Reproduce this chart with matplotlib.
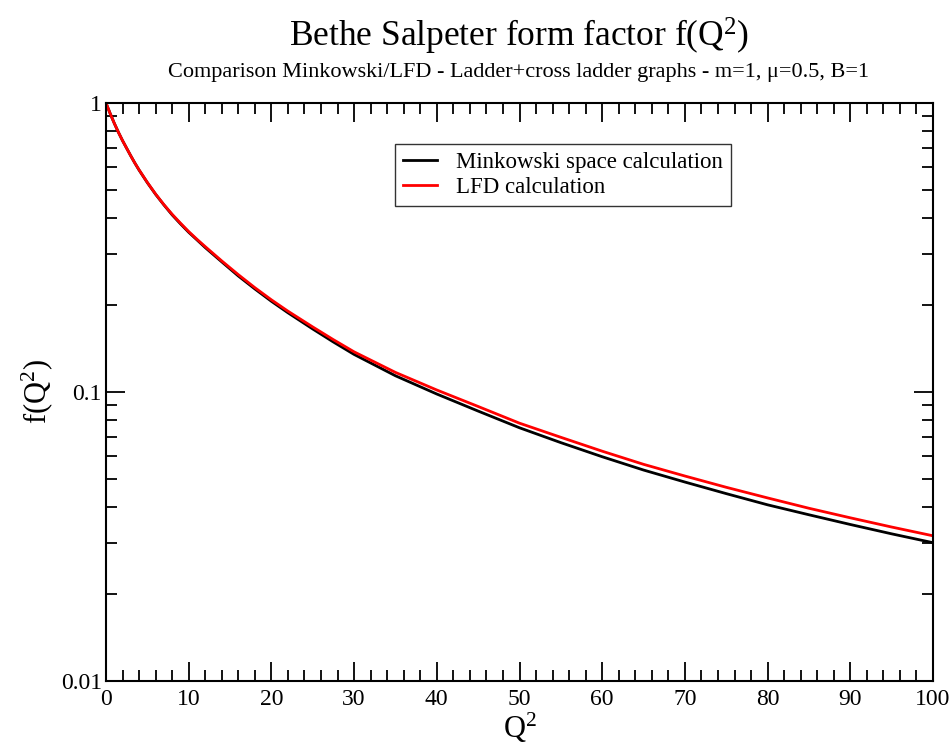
import numpy as np
import matplotlib
matplotlib.use("Agg")
import matplotlib.pyplot as plt
from matplotlib.ticker import MultipleLocator, LogLocator, FixedLocator, NullFormatter

plt.rcParams['font.family'] = ['Liberation Serif', 'DejaVu Serif']
plt.rcParams['mathtext.fontset'] = 'custom'
plt.rcParams['mathtext.rm'] = 'Liberation Serif'
plt.rcParams['mathtext.it'] = 'Liberation Serif:italic'

q2 = [0, 0.5, 1, 1.5, 2, 2.5, 3, 3.5, 4, 5, 6, 7, 8, 9, 10, 11, 12, 14, 16,
      18, 20, 22, 25, 27.5, 30, 35, 40, 45, 50, 55, 60, 65, 70, 75, 80, 85,
      90, 95, 100]
f_mink = [1.000, 0.920, 0.851, 0.792, 0.741, 0.697, 0.656, 0.619, 0.586,
          0.530, 0.483, 0.444, 0.410, 0.382, 0.357, 0.336, 0.316, 0.282,
          0.252, 0.2273, 0.206, 0.188, 0.1652, 0.1489, 0.1349, 0.1138,
          0.0984, 0.0859, 0.0752, 0.0668, 0.0597, 0.0537, 0.0488, 0.0445,
          0.0407, 0.0376, 0.0348, 0.0323, 0.0301]
f_lfd = [1.000, 0.920, 0.851, 0.792, 0.741, 0.697, 0.656, 0.619, 0.587,
         0.531, 0.484, 0.445, 0.412, 0.384, 0.359, 0.3376, 0.3184, 0.2841,
         0.2547, 0.2296, 0.2084, 0.1904, 0.1679, 0.1517, 0.1377, 0.1169,
         0.1016, 0.0891, 0.0780, 0.0697, 0.0624, 0.0562, 0.0512, 0.0468,
         0.0430, 0.0396, 0.0367, 0.0341, 0.0318]
x_ticks = [0, 10, 20, 30, 40, 50, 60, 70, 80, 90, 100]
y_ticks = [0.01, 0.1, 1]
y_tick_labels = ['0.01', '0.1', '1']

fig = plt.figure(figsize=(9.52, 7.52), dpi=100)
ax = fig.add_axes([106/952, 1-681/752, (933-106)/952, (681-103)/752])

ax.plot(q2, f_mink, color='black', lw=2.0, label='Minkowski space calculation')
ax.plot(q2, f_lfd, color='red', lw=2.0, label='LFD calculation')

ax.set_yscale('log')
ax.set_xlim(0, 100)
ax.set_ylim(0.01, 1)

ax.xaxis.set_major_locator(FixedLocator(x_ticks))
ax.xaxis.set_minor_locator(MultipleLocator(2))
ax.yaxis.set_major_locator(FixedLocator(y_ticks))
ax.yaxis.set_minor_locator(LogLocator(base=10, subs=np.arange(2, 10)))
ax.yaxis.set_minor_formatter(NullFormatter())
ax.set_yticklabels(y_tick_labels)

ax.tick_params(which='both', direction='in', top=True, right=True, width=1.3,
               labelsize=17, colors='black')
ax.tick_params(axis='x', pad=6)
ax.tick_params(axis='y', pad=3)
ax.tick_params(which='major', length=14)
ax.tick_params(which='minor', length=8)
for s in ax.spines.values():
    s.set_linewidth(1.5)

ax.set_xlabel(r'Q$^2$', fontsize=22, labelpad=0)
ax.set_ylabel(r'f(Q$^2$)', fontsize=22, labelpad=4)

fig.text(519/952, 1-36/752, r'Bethe Salpeter form factor f(Q$^2$)', fontsize=25.5,
         ha='center', va='center')
fig.text(519/952, 1-73/752,
         'Comparison Minkowski/LFD - Ladder+cross ladder graphs - m=1, \u03bc=0.5, B=1',
         fontsize=16, ha='center', va='center')

leg = ax.legend(loc='upper left', bbox_to_anchor=((395-106)/827, (681-144)/578),
                fontsize=16.5, frameon=True, fancybox=False, handlelength=1.5,
                borderpad=0.35, labelspacing=0.15, handletextpad=0.8,
                borderaxespad=0)
leg.get_frame().set_edgecolor('black')
leg.get_frame().set_linewidth(1.0)

fig.savefig('out.png', dpi=100)
